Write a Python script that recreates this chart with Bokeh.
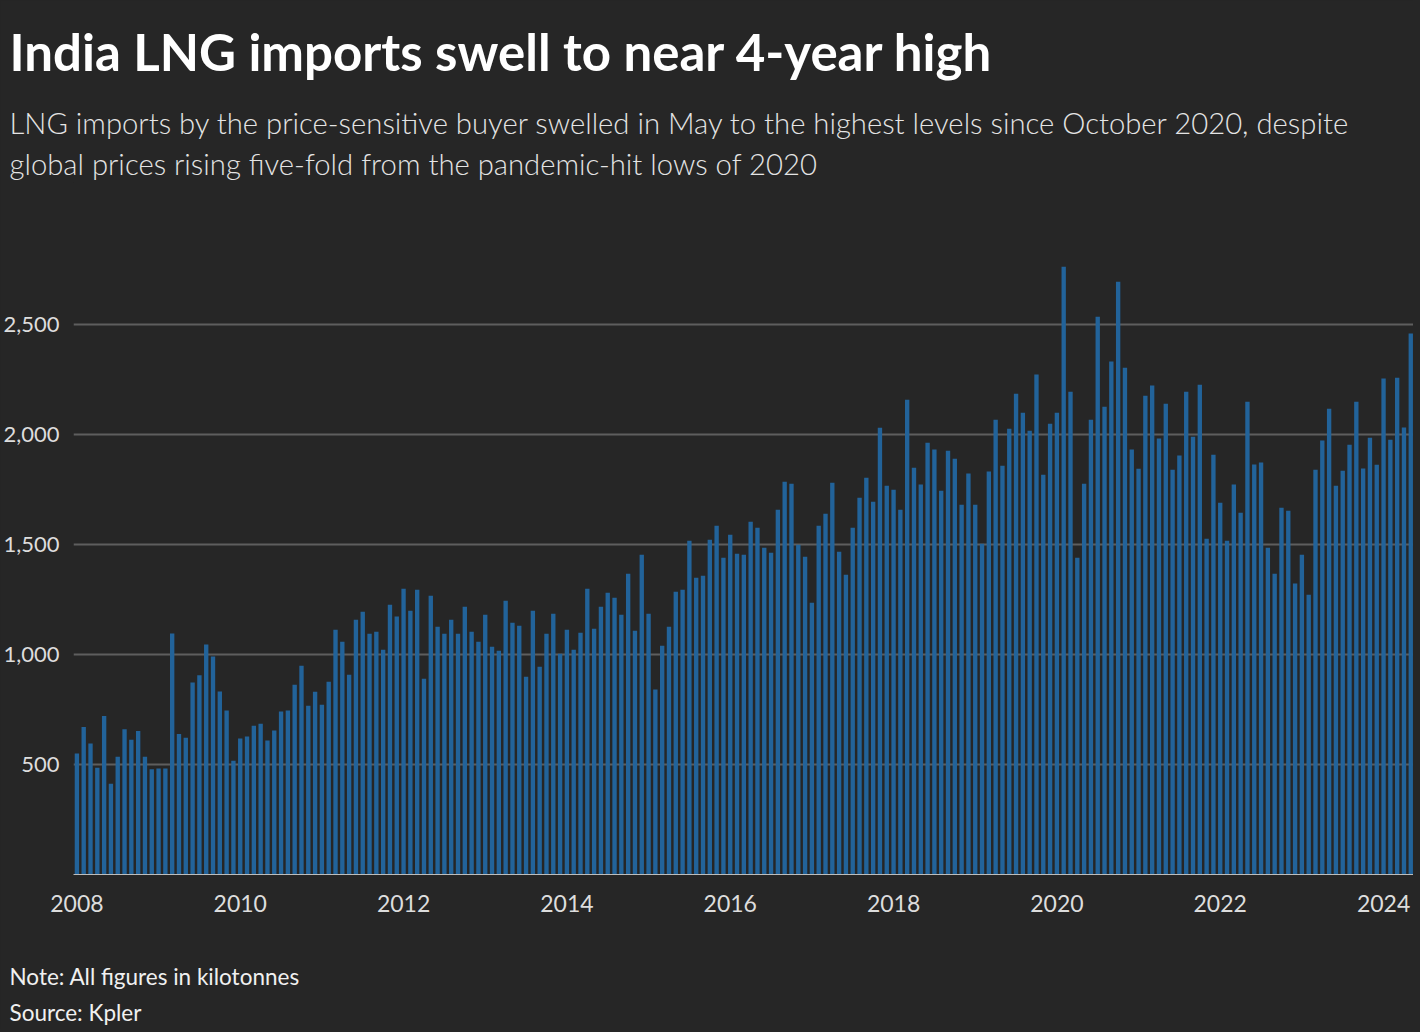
from bokeh.plotting import figure
from bokeh.models import Title, FixedTicker, NumeralTickFormatter, Range1d, GlobalInlineStyleSheet
from bokeh.embed import file_html
from bokeh.resources import INLINE

# Monthly India LNG imports, kilotonnes (Jan 2008 - May 2024)
imports_2008 = [550, 670, 595, 485, 720, 412, 535, 660, 612, 652, 535, 478]
imports_2009 = [482, 482, 1095, 638, 621, 873, 905, 1045, 991, 832, 745, 517]
imports_2010 = [618, 627, 676, 685, 609, 655, 741, 745, 862, 949, 767, 830]
imports_2011 = [771, 876, 1112, 1058, 908, 1158, 1194, 1094, 1103, 1021, 1226, 1172]
imports_2012 = [1299, 1199, 1294, 890, 1267, 1126, 1094, 1158, 1094, 1217, 1103, 1058]
imports_2013 = [1180, 1035, 1017, 1244, 1144, 1131, 899, 1199, 944, 1094, 1185, 1003]
imports_2014 = [1112, 1021, 1099, 1299, 1117, 1217, 1281, 1258, 1180, 1367, 1108, 1453]
imports_2015 = [1185, 841, 1040, 1126, 1285, 1294, 1517, 1349, 1358, 1521, 1585, 1440]
imports_2016 = [1544, 1458, 1453, 1603, 1576, 1485, 1462, 1658, 1785, 1776, 1499, 1444]
imports_2017 = [1235, 1585, 1640, 1780, 1467, 1362, 1576, 1712, 1803, 1694, 2030, 1767]
imports_2018 = [1749, 1658, 2158, 1849, 1772, 1962, 1931, 1744, 1926, 1890, 1681, 1822]
imports_2019 = [1681, 1503, 1831, 2067, 1858, 2026, 2185, 2099, 2017, 2272, 1817, 2049]
imports_2020 = [2099, 2762, 2194, 1440, 1776, 2067, 2535, 2126, 2331, 2694, 2303, 1931]
imports_2021 = [1844, 2176, 2222, 1981, 2140, 1840, 1904, 2194, 1990, 2226, 1526, 1908]
imports_2022 = [1690, 1517, 1772, 1644, 2149, 1863, 1872, 1485, 1367, 1667, 1653, 1322]
imports_2023 = [1453, 1271, 1840, 1972, 2117, 1767, 1835, 1953, 2149, 1845, 1985, 1862]
imports_2024 = [2254, 1976, 2258, 2031, 2459]

yearly = [imports_2008, imports_2009, imports_2010, imports_2011, imports_2012,
          imports_2013, imports_2014, imports_2015, imports_2016, imports_2017,
          imports_2018, imports_2019, imports_2020, imports_2021, imports_2022,
          imports_2023, imports_2024]
first_year = 2008
tick_years = [2008, 2010, 2012, 2014, 2016, 2018, 2020, 2022, 2024]
y_ticks = [500, 1000, 1500, 2000, 2500]

title_text = "India LNG imports swell to near 4-year high"
subtitle_1 = ("LNG imports by the price-sensitive buyer swelled in May to the highest "
              "levels since October 2020, despite")
subtitle_2 = "global prices rising five-fold from the pandemic-hit lows of 2020"
note_text = "Note: All figures in kilotonnes"
source_text = "Source: Kpler"

values = [v for year in yearly for v in year]
months = list(range(len(values)))

BG = "#262626"
BAR = "#22639a"
FONT = "Lato"
LIGHT = "Lato Light"

p = figure(frame_width=1340, frame_height=692, output_backend="svg",
           toolbar_location=None, x_range=Range1d(-0.5, 196.4),
           y_range=Range1d(0, 3145), min_border_left=64, min_border_right=0,
           min_border_top=0, min_border_bottom=0)
p.stylesheets = [GlobalInlineStyleSheet(css="body { background: #262626; }")]
p.background_fill_color = BG
p.border_fill_color = BG
p.outline_line_color = None

p.vbar(x=months, top=values, width=0.64, color=BAR, line_color=None)

# axes
p.xaxis.ticker = FixedTicker(ticks=[(y - first_year) * 12 for y in tick_years])
p.xaxis.major_label_overrides = {(y - first_year) * 12: str(y) for y in tick_years}
p.xaxis.axis_line_color = "#bdbdbd"
p.xaxis.axis_line_width = 1
p.xaxis.major_tick_line_color = None
p.xaxis.minor_tick_line_color = None
p.xaxis.major_label_standoff = 14
p.xaxis.major_label_text_font = FONT
p.xaxis.major_label_text_font_size = "23px"
p.xaxis.major_label_text_color = "#dddddd"

p.yaxis.ticker = FixedTicker(ticks=y_ticks)
p.yaxis.formatter = NumeralTickFormatter(format="0,0")
p.yaxis.axis_line_color = None
p.yaxis.major_tick_line_color = None
p.yaxis.minor_tick_line_color = None
p.yaxis.major_label_standoff = 8
p.yaxis.major_label_text_font = FONT
p.yaxis.major_label_text_font_size = "22px"
p.yaxis.major_label_text_color = "#dddddd"

p.xgrid.grid_line_color = None
p.ygrid.ticker = FixedTicker(ticks=y_ticks)
p.ygrid.grid_line_color = "#5e5e5e"
p.ygrid.grid_line_width = 2

# titles above (innermost first)
p.add_layout(Title(text=subtitle_2, text_font=LIGHT, text_font_size="29.25px",
                   text_font_style="normal", text_color="#e4e4e4", align="left",
                   offset=-64, standoff=3.5), "above")
p.add_layout(Title(text=subtitle_1, text_font=LIGHT, text_font_size="29.25px",
                   text_font_style="normal", text_color="#e4e4e4", align="left",
                   offset=-64, standoff=3.5), "above")
p.add_layout(Title(text=title_text, text_font=FONT, text_font_size="51px",
                   text_font_style="bold", text_color="#ffffff", align="left",
                   offset=-64, standoff=37), "above")

# notes below (innermost first); a blank spacer sets the gap under the axis
p.add_layout(Title(text=" ", text_font=FONT, text_font_size="2px",
                   text_color=BG, standoff=39), "below")
p.add_layout(Title(text=note_text, text_font=FONT, text_font_size="22.5px",
                   text_font_style="normal", text_color="#f0f0f0", align="left",
                   offset=-64, standoff=7), "below")
p.add_layout(Title(text=source_text, text_font=FONT, text_font_size="22.5px",
                   text_font_style="normal", text_color="#f0f0f0", align="left",
                   offset=-64, standoff=7), "below")

open("out.html", "w").write(file_html(p, INLINE))
